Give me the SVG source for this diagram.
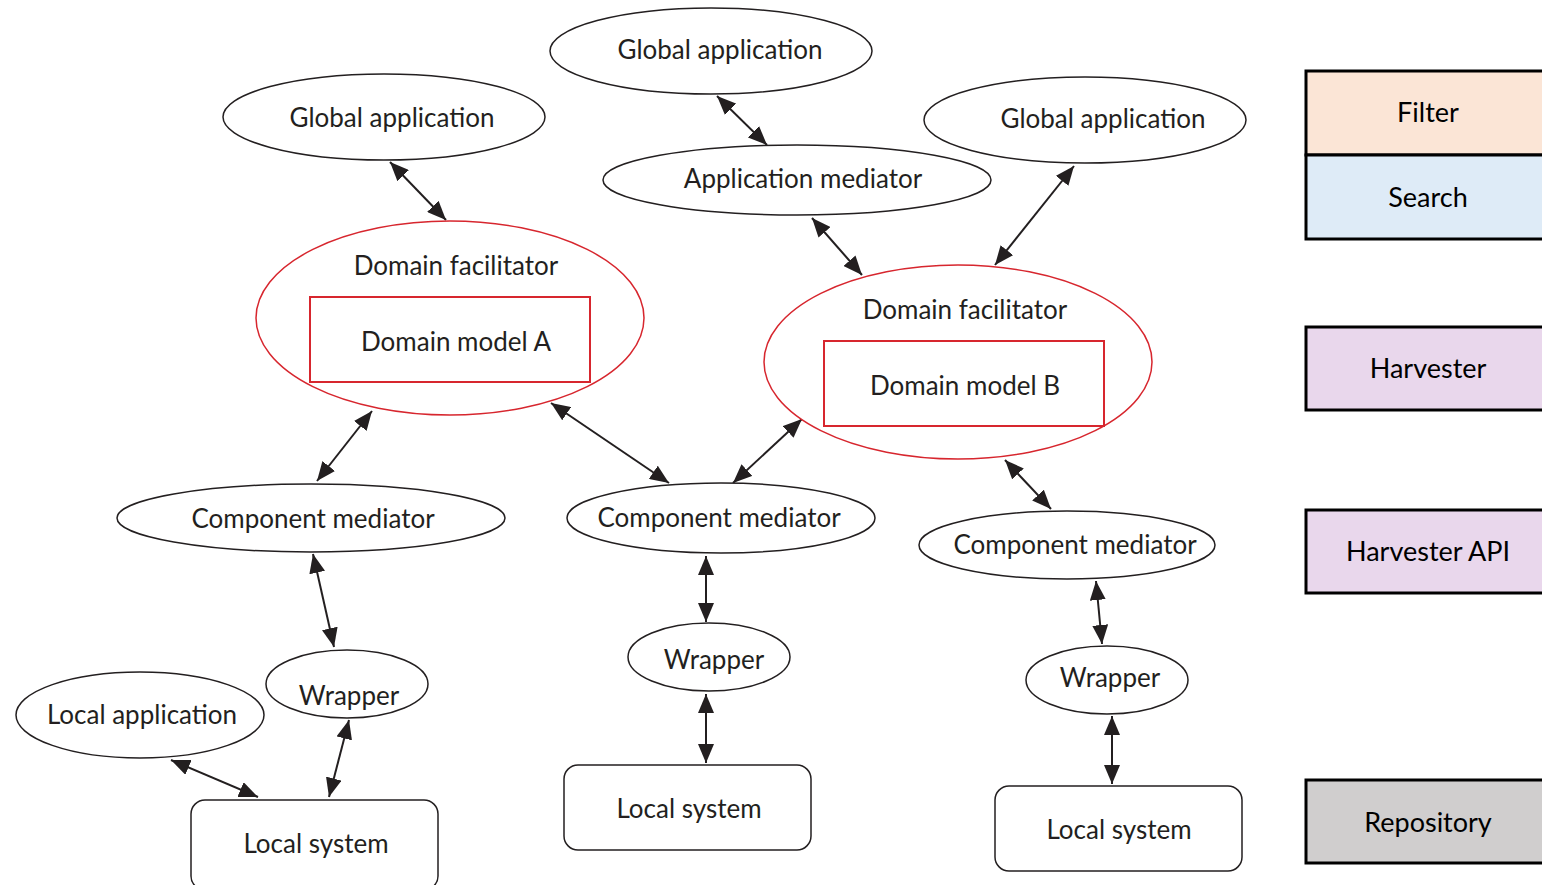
<svg xmlns="http://www.w3.org/2000/svg" width="1542" height="885" viewBox="0 0 1542 885">
  <style>
    .node { fill: #ffffff; stroke: #231f20; stroke-width: 1.5; }
    .dom { fill: #ffffff; stroke: #d7262e; stroke-width: 1.5; }
    .model { fill: none; stroke: #d7262e; stroke-width: 2; }
    .lbl { font-family: Lato, "Open Sans", "Liberation Sans", sans-serif; font-size: 26px; fill: #231f20; text-anchor: middle; dominant-baseline: central; }
    .side { stroke: #000000; stroke-width: 3; }
    .slbl { font-family: Lato, "Liberation Sans", sans-serif; font-size: 27px; fill: #000000; text-anchor: middle; dominant-baseline: central; }
    .conn { stroke: #231f20; stroke-width: 2; fill: none; marker-start: url(#head); marker-end: url(#head); }
  </style>
  <defs>
    <marker id="head" viewBox="0 0 19 16" refX="19" refY="8" markerWidth="19" markerHeight="16" markerUnits="userSpaceOnUse" orient="auto-start-reverse">
      <path d="M0,0 L19,8 L0,16 Z" fill="#231f20"/>
    </marker>
  </defs>
  <rect width="1542" height="885" fill="#ffffff"/>

  <!-- connectors -->
  <g id="connectors">
    <line class="conn" x1="390" y1="162" x2="446" y2="220"/>
    <line class="conn" x1="717" y1="96" x2="767" y2="145"/>
    <line class="conn" x1="812" y1="218" x2="862" y2="275"/>
    <line class="conn" x1="1074" y1="166" x2="995" y2="265"/>
    <line class="conn" x1="372" y1="411" x2="317" y2="481"/>
    <line class="conn" x1="551" y1="403" x2="669" y2="483"/>
    <line class="conn" x1="802" y1="419" x2="733" y2="483"/>
    <line class="conn" x1="1005" y1="460" x2="1051" y2="509"/>
    <line class="conn" x1="313" y1="554" x2="334" y2="647"/>
    <line class="conn" x1="706" y1="556" x2="706" y2="622"/>
    <line class="conn" x1="1096" y1="581" x2="1102" y2="644"/>
    <line class="conn" x1="349" y1="720" x2="329" y2="797"/>
    <line class="conn" x1="171" y1="760" x2="258" y2="797"/>
    <line class="conn" x1="706" y1="694" x2="706" y2="763"/>
    <line class="conn" x1="1112" y1="716" x2="1112" y2="784"/>
  </g>

  <!-- application layer -->
  <g id="global-app-top">
    <ellipse class="node" cx="711" cy="51" rx="161" ry="43"/>
    <text class="lbl" x="720" y="49">Global application</text>
  </g>
  <g id="global-app-left">
    <ellipse class="node" cx="384" cy="117" rx="161" ry="43"/>
    <text class="lbl" x="392" y="117">Global application</text>
  </g>
  <g id="global-app-right">
    <ellipse class="node" cx="1085" cy="120" rx="161" ry="43"/>
    <text class="lbl" x="1103" y="118">Global application</text>
  </g>
  <g id="application-mediator">
    <ellipse class="node" cx="797" cy="180" rx="194" ry="35"/>
    <text class="lbl" x="803" y="178">Application mediator</text>
  </g>

  <!-- domain layer -->
  <g id="domain-facilitator-a">
    <ellipse class="dom" cx="450" cy="318" rx="194" ry="97"/>
    <text class="lbl" x="456" y="265">Domain facilitator</text>
    <rect class="model" x="310" y="297" width="280" height="85"/>
    <text class="lbl" x="456" y="341">Domain model A</text>
  </g>
  <g id="domain-facilitator-b">
    <ellipse class="dom" cx="958" cy="362" rx="194" ry="97"/>
    <text class="lbl" x="965" y="309">Domain facilitator</text>
    <rect class="model" x="824" y="341" width="280" height="85"/>
    <text class="lbl" x="965" y="385">Domain model B</text>
  </g>

  <!-- component mediators -->
  <g id="component-mediator-left">
    <ellipse class="node" cx="311" cy="518" rx="194" ry="34"/>
    <text class="lbl" x="313" y="518">Component mediator</text>
  </g>
  <g id="component-mediator-center">
    <ellipse class="node" cx="721" cy="518" rx="154" ry="35"/>
    <text class="lbl" x="719" y="517">Component mediator</text>
  </g>
  <g id="component-mediator-right">
    <ellipse class="node" cx="1067" cy="545" rx="148" ry="34"/>
    <text class="lbl" x="1075" y="544">Component mediator</text>
  </g>

  <!-- wrappers -->
  <g id="wrapper-left">
    <ellipse class="node" cx="347" cy="684" rx="81" ry="34"/>
    <text class="lbl" x="349" y="695">Wrapper</text>
  </g>
  <g id="wrapper-center">
    <ellipse class="node" cx="709" cy="657" rx="81" ry="34"/>
    <text class="lbl" x="714" y="659">Wrapper</text>
  </g>
  <g id="wrapper-right">
    <ellipse class="node" cx="1107" cy="680" rx="81" ry="34"/>
    <text class="lbl" x="1110" y="677">Wrapper</text>
  </g>
  <g id="local-application">
    <ellipse class="node" cx="140" cy="715" rx="124" ry="43"/>
    <text class="lbl" x="142" y="714">Local application</text>
  </g>

  <!-- local systems -->
  <g id="local-system-left">
    <rect class="node" x="191" y="800" width="247" height="90" rx="14"/>
    <text class="lbl" x="316" y="843">Local system</text>
  </g>
  <g id="local-system-center">
    <rect class="node" x="564" y="765" width="247" height="85" rx="14"/>
    <text class="lbl" x="689" y="808">Local system</text>
  </g>
  <g id="local-system-right">
    <rect class="node" x="995" y="786" width="247" height="85" rx="14"/>
    <text class="lbl" x="1119" y="829">Local system</text>
  </g>

  <!-- side legend -->
  <g id="filter">
    <rect class="side" x="1306" y="71" width="250" height="84" fill="#fbe5d6"/>
    <text class="slbl" x="1428" y="111">Filter</text>
  </g>
  <g id="search">
    <rect class="side" x="1306" y="155" width="250" height="84" fill="#deebf7"/>
    <text class="slbl" x="1428" y="196">Search</text>
  </g>
  <g id="harvester">
    <rect class="side" x="1306" y="327" width="250" height="83" fill="#e9d7ec"/>
    <text class="slbl" x="1428" y="367">Harvester</text>
  </g>
  <g id="harvester-api">
    <rect class="side" x="1306" y="510" width="250" height="83" fill="#e9d7ec"/>
    <text class="slbl" x="1428" y="550">Harvester API</text>
  </g>
  <g id="repository">
    <rect class="side" x="1306" y="780" width="250" height="83" fill="#d0cece"/>
    <text class="slbl" x="1428" y="821">Repository</text>
  </g>
</svg>
